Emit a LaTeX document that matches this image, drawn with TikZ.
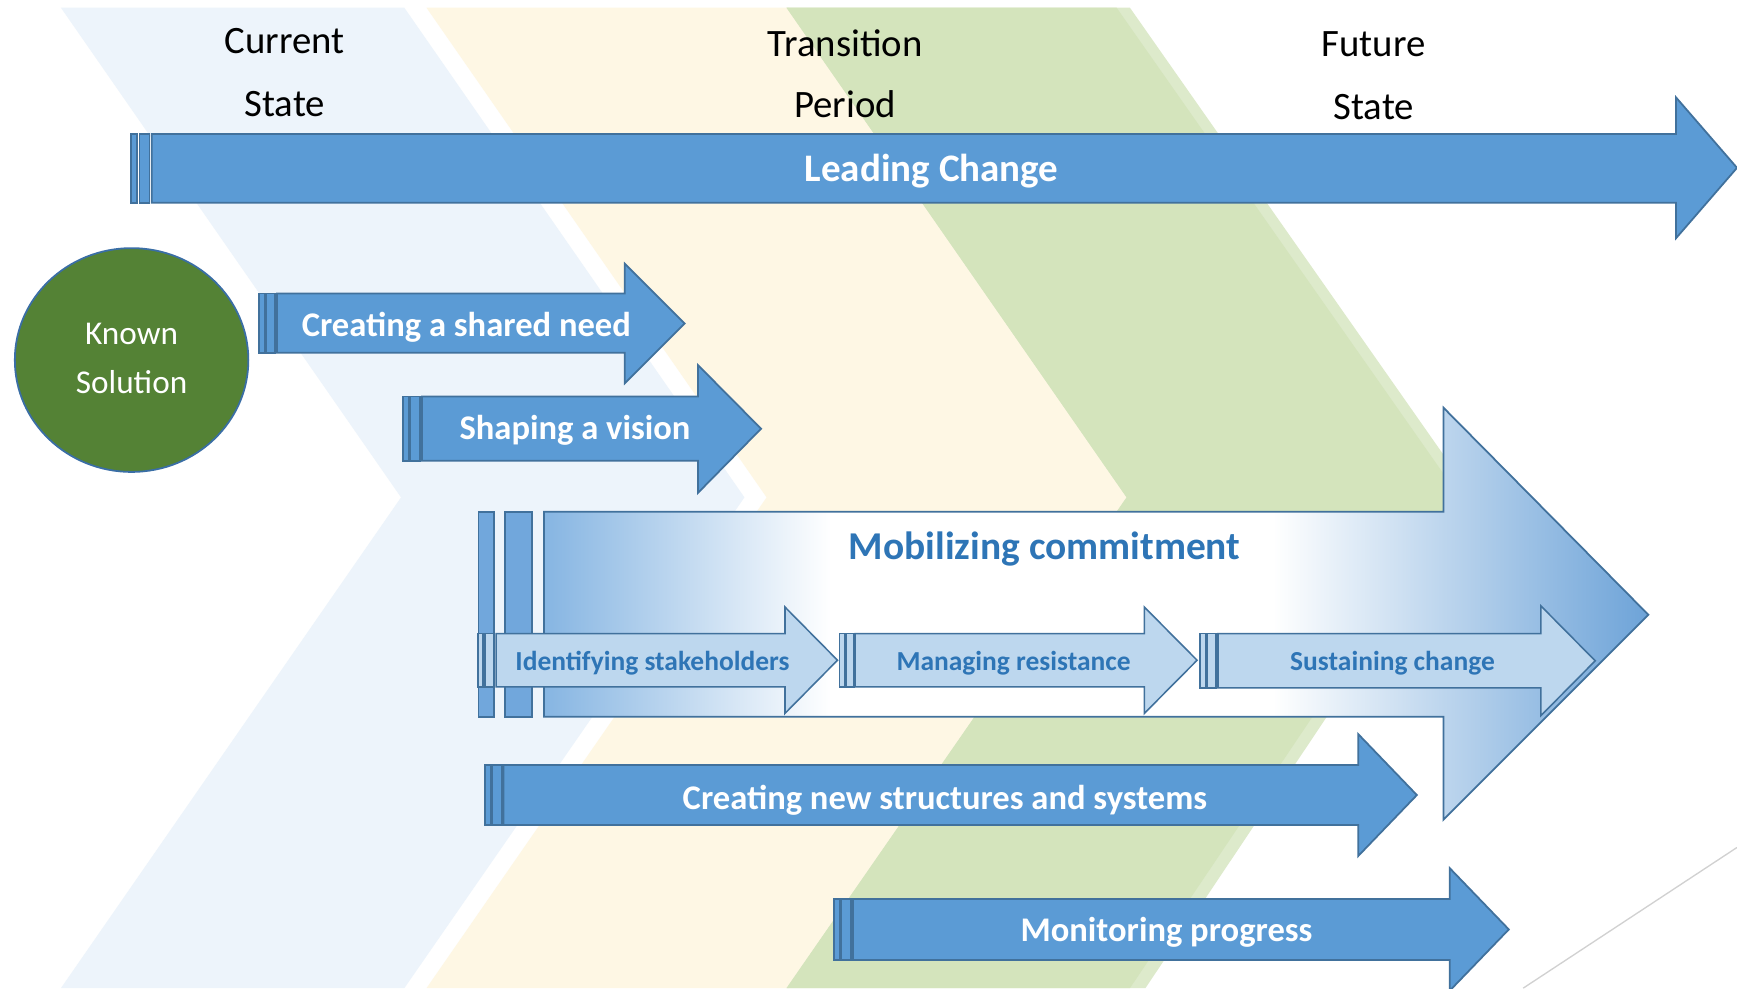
\documentclass[tikz,border=0pt]{standalone}
\usepackage{fontspec}
\setmainfont{Carlito}
\definecolor{lbband}{HTML}{EDF4FB}
\definecolor{crband}{HTML}{FEF7E4}
\definecolor{grband}{HTML}{D4E4BC}
\definecolor{grlight}{HTML}{DDEACB}
\definecolor{arrfill}{HTML}{5B9BD5}
\definecolor{arrline}{HTML}{41719C}
\definecolor{subfill}{HTML}{BDD7EE}
\definecolor{deepblue}{HTML}{2E75B6}
\definecolor{circfill}{HTML}{548235}
\definecolor{circline}{HTML}{3A6EA5}
\definecolor{stripefill}{HTML}{71A7DC}
\definecolor{mobL}{HTML}{86B5E2}
\definecolor{mobR}{HTML}{6DA3D8}
\pgfdeclarehorizontalshading{mobshade}{100bp}{color(0bp)=(mobL); color(25bp)=(mobL); color(38bp)=(white); color(58bp)=(white); color(75bp)=(mobR); color(100bp)=(mobR)}
\tikzset{
  arrowbox/.style={fill=arrfill, draw=arrline, line width=0.8pt, line join=miter},
  subbox/.style={fill=subfill, draw=arrline, line width=0.7pt, line join=miter},
  mobstripe/.style={fill=stripefill, draw=arrline, line width=0.8pt},
  hdr/.style={inner sep=0pt, anchor=base, font=\fontsize{17.5pt}{20pt}\selectfont, text=black},
  bigtxt/.style={inner sep=0pt, anchor=base, font=\fontsize{17.6pt}{20pt}\selectfont\bfseries, text=white},
  midtxt/.style={inner sep=0pt, anchor=base, font=\fontsize{15.6pt}{18pt}\selectfont\bfseries, text=white},
  subtxt/.style={inner sep=0pt, anchor=base, font=\fontsize{12.4pt}{14pt}\selectfont\bfseries, text=deepblue},
  circtxt/.style={inner sep=0pt, anchor=base, font=\fontsize{15pt}{18pt}\selectfont, text=white}
}
\begin{document}
\begin{tikzpicture}[x=0.5pt, y=-0.5pt]
\useasboundingbox (0,0) rectangle (1568,892);
\fill[white] (0,0) rectangle (1568,892);
% background chevron bands
\fill[lbband] (55,7) -- (365,7) -- (672,449) -- (365,892) -- (55,892) -- (362,449) -- cycle;
\fill[crband] (385,7) -- (712,7) -- (1020,449) -- (712,892) -- (385,892) -- (692,449) -- cycle;
\fill[grlight] (710,7) -- (1020,7) -- (1330,449) -- (1034,892) -- (710,892) -- (1017,449) -- cycle;
\fill[grband] (710,7) -- (1008,7) -- (1318,449) -- (1020,892) -- (710,892) -- (1017,449) -- cycle;
% thin grey line bottom right
\draw[black!18, line width=0.6pt] (1375,892) -- (1568,765);

% Leading Change
\draw[arrowbox] (118,121) rectangle (123.5,183);
\draw[arrowbox] (126,121) rectangle (135,183);
\draw[arrowbox] (137,121) -- (1513,121) -- (1513,88) -- (1568,151.5) -- (1513,215) -- (1513,183) -- (137,183) -- cycle;
\node[bigtxt] (lead) at (841,164) {Leading Change};

% Known solution
\draw[fill=circfill, draw=circline, line width=0.8pt] (118.8,325) ellipse [x radius=52.7pt, y radius=50.5pt];
\node[circtxt] (known) at (118.8,311) {Known};
\node[circtxt] (solution) at (118.8,355) {Solution};

% Creating a shared need
\draw[arrowbox] (234,265) rectangle (239,318.5);
\draw[arrowbox] (240.5,265) rectangle (248,318.5);
\draw[arrowbox] (250,265) -- (564,265) -- (564,238) -- (618,292) -- (564,346) -- (564,318.5) -- (250,318.5) -- cycle;
\node[midtxt] (need) at (421,304) {Creating a shared need};

% Shaping a vision
\draw[arrowbox] (364,358) rectangle (369,416);
\draw[arrowbox] (370.5,358) rectangle (379,416);
\draw[arrowbox] (381,358) -- (630,358) -- (630,329.5) -- (687,387) -- (630,445) -- (630,416) -- (381,416) -- cycle;
\node[midtxt] (vision) at (519,397) {Shaping a vision};

% Mobilizing commitment
\draw[mobstripe] (432,462) rectangle (446,647);
\draw[mobstripe] (456,462) rectangle (480,647);
\shadedraw[shading=mobshade, draw=arrline, line width=0.8pt, line join=miter] (491,462) -- (1303,462) -- (1303,368) -- (1488,555) -- (1303,740) -- (1303,647) -- (491,647) -- cycle;
\node[inner sep=0pt, anchor=base, font=\fontsize{17.8pt}{20pt}\selectfont\bfseries, text=deepblue] (mob) at (943,505.5) {Mobilizing commitment};

% Identifying stakeholders
\draw[subbox] (431.5,572) rectangle (436,620);
\draw[subbox] (437.6,572) rectangle (446,620);
\draw[subbox] (447.8,572) -- (708.6,572) -- (708.6,548) -- (756,596) -- (708.6,644) -- (708.6,620) -- (447.8,620) -- cycle;
\node[subtxt] (ident) at (589,605.6) {Identifying stakeholders};

% Managing resistance
\draw[subbox] (758,572) rectangle (763,620);
\draw[subbox] (764,572) rectangle (771,620);
\draw[subbox] (772,572) -- (1033,572) -- (1033,548) -- (1080.6,596) -- (1033,644) -- (1033,620) -- (772,620) -- cycle;
\node[subtxt] (manage) at (915,605.6) {Managing resistance};

% Sustaining change
\draw[subbox] (1083,572) rectangle (1088,621);
\draw[subbox] (1089.6,572) rectangle (1097.6,621);
\draw[subbox] (1099.5,572) -- (1391,572) -- (1391,547) -- (1440,596.5) -- (1391,646) -- (1391,621) -- (1099.5,621) -- cycle;
\node[subtxt] (sustain) at (1257,605.6) {Sustaining change};

% Creating new structures and systems
\draw[arrowbox] (437.8,690.6) rectangle (442.9,744.8);
\draw[arrowbox] (444,690.6) rectangle (453,744.8);
\draw[arrowbox] (454.6,690.6) -- (1226,690.6) -- (1226,662.6) -- (1279,717.7) -- (1226,772.8) -- (1226,744.8) -- (454.6,744.8) -- cycle;
\node[midtxt] (struct) at (853,731) {Creating new structures and systems};

% Monitoring progress
\draw[arrowbox] (753,811.6) rectangle (758,866.6);
\draw[arrowbox] (759,811.6) rectangle (768,866.6);
\draw[arrowbox] (770,811.6) -- (1308.6,811.6) -- (1308.6,783.6) -- (1362,839) -- (1308.6,894.4) -- (1308.6,866.6) -- (770,866.6) -- cycle;
\node[midtxt] (monitor) at (1053,850) {Monitoring progress};

% Headers
\node[hdr] (cur1) at (257,48) {Current};
\node[hdr] (cur2) at (257,105) {State};
\node[hdr] (tr1) at (763,51) {Transition};
\node[hdr] (tr2) at (763,106) {Period};
\node[hdr] (fu1) at (1240,51) {Future};
\node[hdr] (fu2) at (1240,108) {State};
\end{tikzpicture}
\end{document}
